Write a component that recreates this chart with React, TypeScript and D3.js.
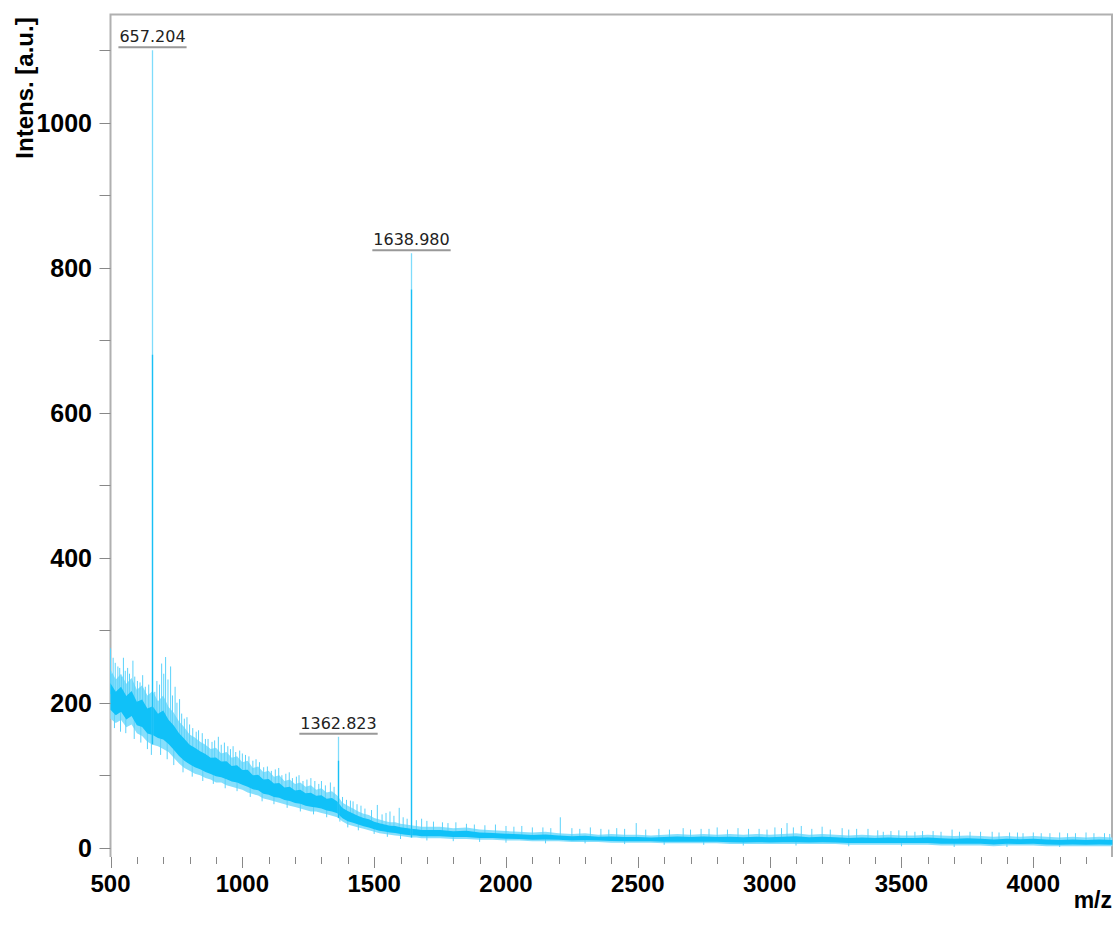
import { useEffect, useRef } from "react";
import * as d3 from "d3";

// noise band envelope (m/z, upper and lower edge in a.u.)
const bandMz = [
  500, 520, 540, 560, 580, 600, 620, 640, 660, 680, 700, 720, 740, 760, 780, 800, 820, 840, 860, 880,
  900, 920, 940, 960, 980, 1000, 1020, 1040, 1060, 1080, 1100, 1120, 1140, 1160, 1180, 1200, 1220, 1240, 1260, 1280,
  1300, 1320, 1340, 1360, 1380, 1400, 1420, 1440, 1460, 1480, 1500, 1520, 1540, 1560, 1580, 1600, 1620, 1640, 1660, 1680,
  1700, 1750, 1800, 1850, 1900, 1950, 2000, 2050, 2100, 2150, 2200, 2250, 2300, 2350, 2400, 2450, 2500, 2550, 2600, 2650,
  2700, 2750, 2800, 2850, 2900, 2950, 3000, 3050, 3100, 3150, 3200, 3250, 3300, 3350, 3400, 3450, 3500, 3550, 3600, 3650,
  3700, 3750, 3800, 3850, 3900, 3950, 4000, 4050, 4100, 4150, 4200, 4250, 4300,
];
const bandHigh = [
  246, 232, 240, 226, 234, 218, 224, 210, 216, 202, 210, 194, 186, 174, 166, 156, 152, 146, 142, 136,
  138, 130, 132, 124, 126, 118, 120, 110, 112, 104, 106, 98, 100, 92, 94, 88, 90, 84, 86, 80,
  82, 76, 78, 72, 62, 58, 54, 50, 47, 45, 41, 39, 37, 35, 35, 33, 32, 31, 30, 29,
  29, 29, 27, 28, 25, 24, 23, 22, 21, 22, 20, 19, 20, 18, 19, 18, 18, 17, 18, 19,
  18, 19, 18, 19, 18, 19, 18, 19, 20, 18, 19, 18, 17, 18, 17, 18, 17, 17, 18, 17,
  16, 17, 16, 15, 16, 15, 16, 15, 14, 15, 14, 15, 14,
];
const bandLow = [
  178, 172, 176, 166, 170, 158, 154, 146, 142, 140, 136, 132, 124, 116, 110, 106, 102, 100, 96, 94,
  90, 90, 86, 84, 82, 80, 76, 74, 72, 68, 66, 64, 62, 60, 58, 56, 54, 52, 50, 50,
  48, 46, 44, 42, 36, 32, 30, 28, 26, 24, 22, 20, 19, 18, 17, 16, 15, 14, 14, 13,
  13, 13, 12, 12, 11, 11, 10, 10, 9, 9, 9, 8, 8, 8, 7, 7, 7, 7, 6, 6,
  6, 6, 6, 5, 5, 5, 5, 5, 5, 5, 5, 5, 4, 4, 4, 4, 4, 4, 4, 3,
  3, 3, 3, 2, 3, 3, 3, 2, 2, 2, 2, 2, 2,
];

// noise spikes above the band [m/z, top]
const spikes = [
  [500, 275], [505, 240], [510, 262], [518, 255], [528, 250], [535, 248], [542, 236], [549, 262], [556, 244],
  [565, 248], [572, 240], [585, 258], [592, 236], [602, 230], [612, 228], [622, 238], [632, 222], [645, 225],
  [668, 215], [676, 230], [686, 225], [694, 254], [702, 240], [709, 263], [718, 232], [728, 250], [735, 210],
  [745, 222], [752, 200], [762, 205], [770, 185], [780, 178], [790, 180], [800, 170], [812, 165], [825, 160],
  [834, 162], [848, 158], [860, 150], [870, 150], [885, 146], [895, 148], [909, 153], [920, 142], [932, 145],
  [945, 140], [955, 136], [965, 140], [975, 132], [990, 134], [1000, 130], [1012, 128], [1025, 126], [1040, 120],
  [1052, 122], [1065, 118], [1081, 111], [1095, 112], [1110, 106], [1125, 108], [1138, 110], [1150, 100],
  [1165, 102], [1178, 104], [1190, 96], [1205, 98], [1215, 100], [1230, 92], [1245, 94], [1260, 96], [1275, 92],
  [1290, 88], [1300, 92], [1315, 86], [1334, 90], [1348, 84], [1380, 70], [1395, 66], [1410, 65], [1420, 64],
  [1435, 60], [1450, 58], [1465, 54], [1490, 52], [1512, 59], [1530, 46], [1545, 48], [1560, 50], [1575, 44],
  [1595, 55], [1610, 42], [1625, 40], [1660, 38], [1680, 40], [1700, 37], [1725, 36], [1759, 35], [1780, 34],
  [1810, 35], [1850, 33], [1880, 32], [1920, 31], [1960, 32], [2000, 30], [2030, 29], [2060, 30], [2100, 28],
  [2140, 28], [2170, 27], [2206, 42], [2250, 27], [2280, 26], [2320, 28], [2360, 26], [2390, 25], [2420, 27],
  [2450, 26], [2494, 34], [2530, 25], [2580, 26], [2620, 25], [2672, 27], [2700, 25], [2740, 26], [2770, 26],
  [2801, 28], [2840, 25], [2880, 27], [2920, 26], [2960, 26], [2990, 25], [3020, 28], [3045, 27], [3066, 34],
  [3090, 28], [3120, 30], [3160, 26], [3199, 29], [3230, 25], [3275, 27], [3300, 25], [3330, 26], [3373, 26],
  [3410, 24], [3431, 22], [3460, 23], [3490, 24], [3520, 23], [3551, 22], [3580, 23], [3620, 23], [3650, 22],
  [3692, 25], [3720, 22], [3760, 22], [3800, 22], [3844, 22], [3870, 21], [3910, 21], [3940, 21], [3961, 20],
  [4000, 21], [4030, 20], [4063, 20], [4100, 21], [4130, 20], [4160, 20], [4200, 21], [4230, 20], [4270, 20],
  [4290, 19],
];

// noise dips below the band [m/z, bottom]
const dips = [
  [515, 165], [538, 160], [558, 158], [590, 150], [615, 145], [640, 136], [655, 128], [690, 128], [715, 122],
  [740, 114], [775, 104], [810, 98], [850, 92], [890, 88], [935, 82], [980, 78], [1030, 70], [1075, 64],
  [1120, 60], [1170, 55], [1220, 50], [1270, 46], [1320, 42], [1370, 36], [1400, 28], [1440, 24], [1500, 19],
  [1550, 15], [1600, 12], [1700, 10], [1800, 9], [1900, 8], [2000, 7], [2150, 6], [2300, 6], [2450, 5],
  [2600, 4], [2750, 4], [2900, 3], [3100, 3], [3300, 2], [3500, 2], [3700, 1], [3900, 1], [4100, 1],
];

// labelled peaks
const peakMz = [657.204, 1362.823, 1638.98];
const peakTop = [1100, 153, 820];
const peakSolid = [680, 120, 770];
const peakLabels = ["657.204", "1362.823", "1638.980"];

const yTicks = d3.range(0, 1101, 100);
const yLabels = [0, 200, 400, 600, 800, 1000];
const xTicks = d3.range(500, 4201, 100);
const xLabels = [500, 1000, 1500, 2000, 2500, 3000, 3500, 4000];

export default function App() {
  const ref = useRef<SVGSVGElement>(null);

  useEffect(() => {
    const width = 1117;
    const height = 927;
    const left = 110.5, right = 1112, top = 14.5, bottom = 857;

    const svg = d3.select(ref.current).attr("width", width).attr("height", height);
    svg.selectAll("*").remove();

    const x = d3.scaleLinear().domain([500, 4298.5]).range([left, right]);
    const y = d3.scaleLinear().domain([-12.8, 1149.2]).range([bottom, top]);
    const lowAt = d3.scaleLinear().domain(bandMz).range(bandLow);
    const highAt = d3.scaleLinear().domain(bandMz).range(bandHigh);
    const midAt = (m: number) => (lowAt(m) + highAt(m)) / 2;

    const g = svg.append("g");

    // frame
    g.append("path")
      .attr("d", `M${left},${bottom}V${top}H${right}V${bottom}`)
      .attr("fill", "none")
      .attr("stroke", "#b0b0b0")
      .attr("stroke-width", 2);

    // noise band
    const band = bandMz.map((m, i) => ({ m, hi: bandHigh[i], lo: bandLow[i] }));
    g.append("path")
      .datum(band)
      .attr("fill", "#86dffc")
      .attr("d", d3.area<any>().x(d => x(d.m)).y0(d => y(d.lo)).y1(d => y(d.hi)));

    g.selectAll(".spike")
      .data(spikes)
      .join("line")
      .attr("x1", d => x(d[0])).attr("x2", d => x(d[0]))
      .attr("y1", d => y(midAt(d[0])))
      .attr("y2", d => y(d[1]))
      .attr("stroke", "#5ad2fb")
      .attr("stroke-width", 1);

    g.selectAll(".dip")
      .data(dips)
      .join("line")
      .attr("x1", d => x(d[0])).attr("x2", d => x(d[0]))
      .attr("y1", d => y(midAt(d[0])))
      .attr("y2", d => y(d[1]))
      .attr("stroke", "#5ad2fb")
      .attr("stroke-width", 1);

    g.append("path")
      .datum(band)
      .attr("fill", "#10c1f8")
      .attr("d", d3.area<any>()
        .x(d => x(d.m))
        .y0(d => y(d.lo + (d.hi - d.lo) * 0.18))
        .y1(d => y(d.lo + (d.hi - d.lo) * 0.72)));

    // peaks
    peakMz.forEach((m, i) => {
      const px = Math.round(x(m)) + 0.5;
      g.append("line")
        .attr("x1", px).attr("x2", px)
        .attr("y1", y(lowAt(m))).attr("y2", y(peakTop[i]))
        .attr("stroke", "#7fdcfb").attr("stroke-width", 1.3);
      g.append("line")
        .attr("x1", px).attr("x2", px)
        .attr("y1", y(lowAt(m))).attr("y2", y(peakSolid[i]))
        .attr("stroke", "#18c0f5").attr("stroke-width", 1.3);

      const ty = y(peakTop[i]) - 3;
      const t = g.append("text")
        .attr("x", px).attr("y", ty - 5)
        .attr("text-anchor", "middle")
        .attr("font-family", "DejaVu Sans")
        .attr("font-size", 16)
        .attr("fill", "#222")
        .text(peakLabels[i]);
      const w = (t.node() as SVGTextElement).getComputedTextLength();
      g.append("line")
        .attr("x1", px - w / 2 - 1).attr("x2", px + w / 2 + 1)
        .attr("y1", ty).attr("y2", ty)
        .attr("stroke", "#999").attr("stroke-width", 2);
    });

    // y axis ticks
    g.selectAll(".ytick")
      .data(yTicks)
      .join("line")
      .attr("x1", left - 11).attr("x2", left)
      .attr("y1", d => Math.round(y(d)) + 0.5).attr("y2", d => Math.round(y(d)) + 0.5)
      .attr("stroke", "#888");
    g.selectAll(".ylab")
      .data(yLabels)
      .join("text")
      .attr("x", 92)
      .attr("y", d => y(d))
      .attr("dy", "0.36em")
      .attr("text-anchor", "end")
      .attr("font-family", "Liberation Sans")
      .attr("font-weight", "bold")
      .attr("font-size", 25)
      .attr("fill", "#000")
      .text(d => d);

    // x axis ticks
    g.selectAll(".xtick")
      .data(xTicks)
      .join("line")
      .attr("x1", d => Math.round(x(d)) + 0.5).attr("x2", d => Math.round(x(d)) + 0.5)
      .attr("y1", bottom)
      .attr("y2", d => bottom + (d % 500 === 0 ? 11 : 7))
      .attr("stroke", "#888");
    g.selectAll(".xlab")
      .data(xLabels)
      .join("text")
      .attr("x", d => x(d))
      .attr("y", bottom + 35)
      .attr("text-anchor", "middle")
      .attr("font-family", "Liberation Sans")
      .attr("font-weight", "bold")
      .attr("font-size", 24)
      .attr("fill", "#000")
      .text(d => d);

    g.append("text")
      .attr("x", right).attr("y", 908)
      .attr("text-anchor", "end")
      .attr("font-family", "Liberation Sans")
      .attr("font-weight", "bold")
      .attr("font-size", 23)
      .text("m/z");

    g.append("text")
      .attr("transform", "translate(33,88) rotate(-90)")
      .attr("text-anchor", "middle")
      .attr("font-family", "Liberation Sans")
      .attr("font-weight", "bold")
      .attr("font-size", 24)
      .text("Intens. [a.u.]");
  }, []);

  return <svg ref={ref} style={{ position: "absolute", left: 0, top: 0 }}></svg>;
}
